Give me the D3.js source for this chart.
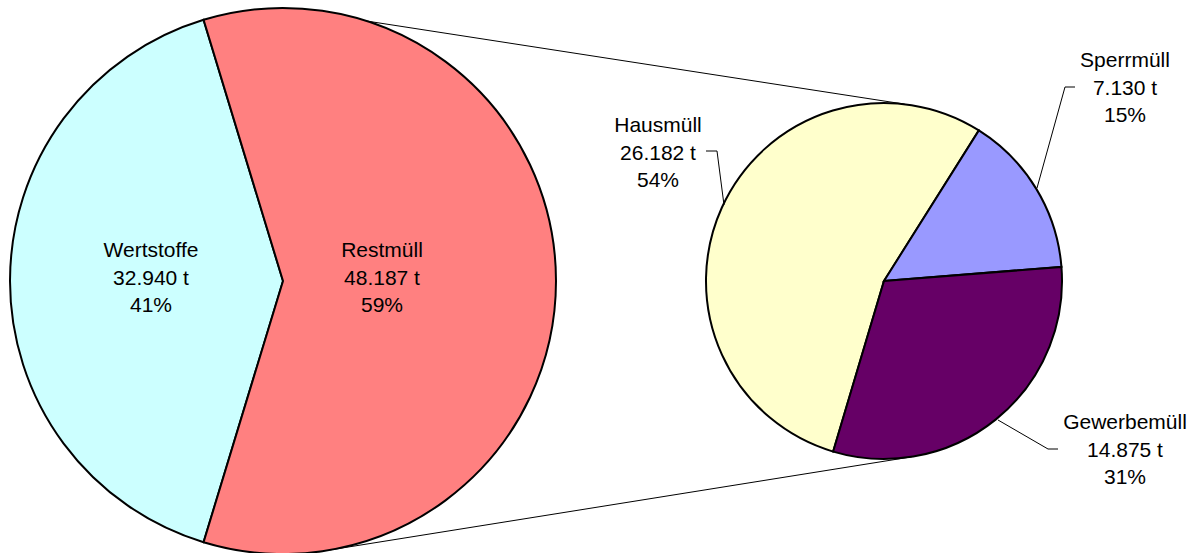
<!DOCTYPE html>
<html>
<head>
<meta charset="utf-8">
<script src="https://cdn.jsdelivr.net/npm/d3@7"></script>
<style>
  html, body { margin: 0; padding: 0; background: #fff; }
  svg { display: block; font-family: Arial, "Liberation Sans", sans-serif; }
</style>
</head>
<body>
<svg id="chart" width="1199" height="553"></svg>
<script>
// ---- data ----
const mainCategories = ["Wertstoffe", "Restmüll"];
const mainValues = [32940, 48187];
const mainColors = ["#CCFFFF", "#FF8080"];

const subCategories = ["Hausmüll", "Sperrmüll", "Gewerbemüll"];
const subValues = [26182, 7130, 14875];
const subColors = ["#FFFFCC", "#9999FF", "#660066"];

const fmtNum = v => {
  const s = String(v);
  return s.slice(0, s.length - 3) + "." + s.slice(-3) + " t";
};

const svg = d3.select("#chart");
const deg = Math.PI / 180;

// ---- main pie ----
const main = { cx: 283, cy: 281, r: 273 };
const mainTotal = d3.sum(mainValues);
const restSpan = mainValues[1] / mainTotal * 360;
const mainStart = (90 + restSpan / 2) * deg; // Restmüll centred on the right
const mainPie = d3.pie().sort(null).startAngle(mainStart).endAngle(mainStart + 2 * Math.PI);
const mainArcs = mainPie(mainValues);
const mainArc = d3.arc().innerRadius(0).outerRadius(main.r);

// ---- secondary pie ----
const sub = { cx: 884, cy: 281, r: 178 };
const subStartDeg = 32.2 - subValues[0] / d3.sum(subValues) * 360;
const subPie = d3.pie().sort(null).startAngle(subStartDeg * deg).endAngle(subStartDeg * deg + 2 * Math.PI);
const subArcs = subPie(subValues);
const subArc = d3.arc().innerRadius(0).outerRadius(sub.r);

// connector lines (d3 angles, clockwise from 12 o'clock)
const pt = (c, a, r) => [c.cx + r * Math.sin(a * deg), c.cy - r * Math.cos(a * deg)];
const connectors = [
  [pt(main, 17.7, main.r), pt(sub, 6.7, sub.r)],
  [pt(main, 170.2, main.r), pt(sub, 171, sub.r)]
];
svg.append("g").selectAll("line").data(connectors).join("line")
  .attr("x1", d => d[0][0]).attr("y1", d => d[0][1])
  .attr("x2", d => d[1][0]).attr("y2", d => d[1][1])
  .attr("stroke", "#000").attr("stroke-width", 1);

const gMain = svg.append("g").attr("transform", `translate(${main.cx},${main.cy})`);
gMain.selectAll("path").data(mainArcs).join("path")
  .attr("d", mainArc)
  .attr("fill", (d, i) => mainColors[i])
  .attr("stroke", "#000").attr("stroke-width", 2).attr("stroke-linejoin", "miter");

const gSub = svg.append("g").attr("transform", `translate(${sub.cx},${sub.cy})`);
gSub.selectAll("path").data(subArcs).join("path")
  .attr("d", subArc)
  .attr("fill", (d, i) => subColors[i])
  .attr("stroke", "#000").attr("stroke-width", 2).attr("stroke-linejoin", "miter");

// ---- labels ----
const lineH = 27.5;
function label(x, y, lines) {
  const t = svg.append("text")
    .attr("x", x).attr("y", y)
    .attr("text-anchor", "middle")
    .attr("font-size", "21px")
    .attr("fill", "#000");
  lines.forEach((s, i) => {
    t.append("tspan").attr("x", x).attr("dy", i === 0 ? 0 : lineH).text(s);
  });
}
const pct = (v, tot) => Math.round(v / tot * 100) + "%";
const subTotal = d3.sum(subValues);

label(151, 257, [mainCategories[0], fmtNum(mainValues[0]), pct(mainValues[0], mainTotal)]);
label(382, 257, [mainCategories[1], fmtNum(mainValues[1]), pct(mainValues[1], mainTotal)]);
label(658, 132, [subCategories[0], fmtNum(subValues[0]), pct(subValues[0], subTotal)]);
label(1125, 67, [subCategories[1], fmtNum(subValues[1]), pct(subValues[1], subTotal)]);
label(1125, 429, [subCategories[2], fmtNum(subValues[2]), pct(subValues[2], subTotal)]);

// leader lines
const leaders = [
  [[706, 151], [717, 151], [724, 205]],
  [[1075, 87], [1065, 87], [1037, 188]],
  [[1058, 449], [1048, 449], [998, 420]]
];
svg.append("g").selectAll("path").data(leaders).join("path")
  .attr("d", d => d3.line()(d))
  .attr("fill", "none").attr("stroke", "#000").attr("stroke-width", 1);
</script>
</body>
</html>
